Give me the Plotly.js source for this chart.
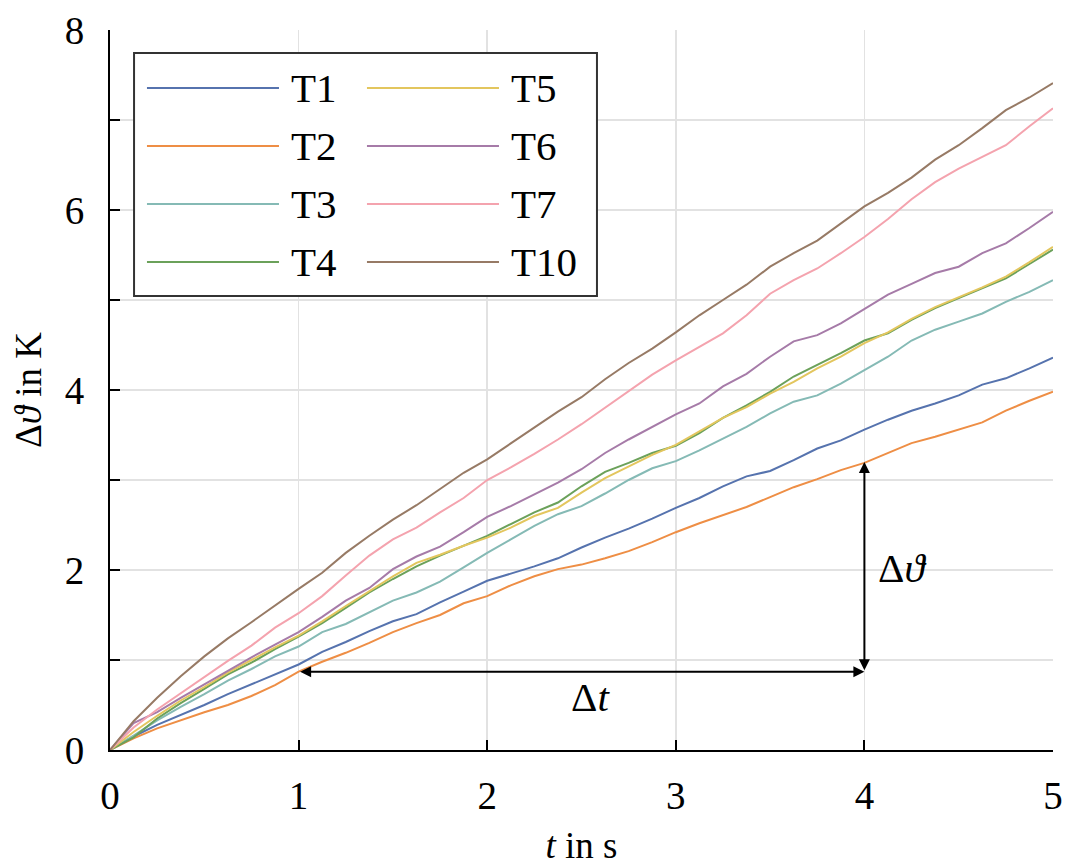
<!DOCTYPE html>
<html>
<head>
<meta charset="utf-8">
<script src="https://cdn.plot.ly/plotly-3.0.1.min.js"></script>
<style>
  html, body { margin: 0; padding: 0; background: #fff; }
  #graph { width: 1076px; height: 868px; }
</style>
</head>
<body>
<div id="graph"></div>
<script>
// time axis in s
var time = [0, 0.125, 0.25, 0.375, 0.5, 0.625, 0.75, 0.875, 1,
  1.125, 1.25, 1.375, 1.5, 1.625, 1.75, 1.875, 2,
  2.125, 2.25, 2.375, 2.5, 2.625, 2.75, 2.875, 3,
  3.125, 3.25, 3.375, 3.5, 3.625, 3.75, 3.875, 4,
  4.125, 4.25, 4.375, 4.5, 4.625, 4.75, 4.875, 5]

// temperature rise in K
var T1 = [0, 0.15, 0.28, 0.39, 0.50, 0.62, 0.73, 0.84, 0.95,
  1.09, 1.20, 1.32, 1.43, 1.51, 1.64, 1.76, 1.88,
  1.96, 2.04, 2.13, 2.25, 2.36, 2.46, 2.57, 2.69,
  2.80, 2.93, 3.04, 3.10, 3.22, 3.35, 3.44, 3.56,
  3.67, 3.77, 3.85, 3.94, 4.06, 4.13, 4.24, 4.36]
var T2 = [0, 0.13, 0.24, 0.33, 0.42, 0.50, 0.60, 0.72, 0.87,
  0.98, 1.08, 1.19, 1.31, 1.41, 1.50, 1.63, 1.71,
  1.83, 1.93, 2.01, 2.06, 2.13, 2.21, 2.31, 2.42,
  2.52, 2.61, 2.70, 2.81, 2.92, 3.01, 3.11, 3.19,
  3.30, 3.41, 3.48, 3.56, 3.64, 3.77, 3.88, 3.98]
var T3 = [0, 0.16, 0.33, 0.48, 0.62, 0.77, 0.90, 1.04, 1.15,
  1.31, 1.40, 1.53, 1.66, 1.75, 1.87, 2.03, 2.19,
  2.34, 2.49, 2.62, 2.71, 2.85, 3.00, 3.13, 3.21,
  3.33, 3.46, 3.59, 3.74, 3.87, 3.94, 4.07, 4.22,
  4.37, 4.55, 4.67, 4.76, 4.85, 4.98, 5.09, 5.22]
var T4 = [0, 0.14, 0.35, 0.52, 0.68, 0.84, 0.97, 1.12, 1.26,
  1.41, 1.58, 1.75, 1.90, 2.04, 2.16, 2.27, 2.38,
  2.51, 2.64, 2.75, 2.93, 3.09, 3.19, 3.30, 3.38,
  3.52, 3.69, 3.83, 3.98, 4.15, 4.28, 4.41, 4.55,
  4.63, 4.78, 4.91, 5.02, 5.13, 5.24, 5.40, 5.56]
var T5 = [0, 0.20, 0.38, 0.55, 0.70, 0.86, 1.00, 1.14, 1.27,
  1.43, 1.60, 1.77, 1.93, 2.08, 2.17, 2.27, 2.36,
  2.47, 2.60, 2.69, 2.86, 3.02, 3.15, 3.28, 3.39,
  3.54, 3.69, 3.81, 3.96, 4.09, 4.24, 4.37, 4.52,
  4.64, 4.79, 4.92, 5.03, 5.14, 5.26, 5.42, 5.59]
var T6 = [0, 0.30, 0.42, 0.58, 0.73, 0.88, 1.03, 1.17, 1.31,
  1.48, 1.66, 1.80, 2.01, 2.15, 2.26, 2.42, 2.59,
  2.71, 2.84, 2.97, 3.12, 3.30, 3.45, 3.59, 3.73,
  3.85, 4.04, 4.18, 4.37, 4.54, 4.61, 4.74, 4.90,
  5.06, 5.18, 5.30, 5.37, 5.52, 5.63, 5.80, 5.98]
var T7 = [0, 0.25, 0.45, 0.63, 0.80, 0.99, 1.16, 1.36, 1.52,
  1.71, 1.94, 2.16, 2.34, 2.47, 2.64, 2.80, 3.00,
  3.14, 3.29, 3.45, 3.62, 3.80, 3.98, 4.17, 4.33,
  4.48, 4.63, 4.83, 5.07, 5.22, 5.35, 5.52, 5.70,
  5.90, 6.12, 6.31, 6.46, 6.59, 6.72, 6.93, 7.13]
var T10 = [0, 0.32, 0.58, 0.82, 1.04, 1.24, 1.42, 1.61, 1.79,
  1.97, 2.19, 2.38, 2.56, 2.72, 2.90, 3.08, 3.23,
  3.41, 3.58, 3.76, 3.92, 4.12, 4.30, 4.46, 4.64,
  4.83, 5.00, 5.17, 5.37, 5.52, 5.66, 5.85, 6.04,
  6.19, 6.36, 6.56, 6.72, 6.91, 7.11, 7.25, 7.41]

var names = ['T1', 'T2', 'T3', 'T4', 'T5', 'T6', 'T7', 'T10']
var series = [T1, T2, T3, T4, T5, T6, T7, T10]
var colors = ['#5673AE', '#EE8E45', '#85BAB5', '#6BA15A', '#E3C65E', '#A67BA8', '#F4A3AE', '#977A65']

var yTicks = [0, 1, 2, 3, 4, 5, 6, 7, 8]
var yTickText = ['0', '', '2', '', '4', '', '6', '', '8']
var xTicks = [0, 1, 2, 3, 4, 5]

// the two marked intervals
var dtStart = 1, dtEnd = 4, dtLevel = 0.87
var dTheta = 3.2

var font = 'Liberation Serif, Times New Roman, serif'

var traces = []
for (var i = 0; i < series.length; i++) {
  traces.push({
    x: time,
    y: series[i],
    name: names[i],
    mode: 'lines',
    showlegend: false,
    line: { color: colors[i], width: 2 }
  })
}

// legend drawn by hand: two columns, long line samples
var shapes = [{
  type: 'rect', xref: 'paper', yref: 'paper',
  x0: 0.0255, x1: 0.5164, y0: 0.6306, y1: 0.968,
  line: { color: '#333', width: 2 }, fillcolor: '#fff', layer: 'above'
}]
var annotations = []
var rowY = [0.9194, 0.8389, 0.7583, 0.6778]
for (i = 0; i < names.length; i++) {
  var col = i < 4 ? 0 : 1
  var row = i % 4
  var x0 = col === 0 ? 0.0392 : 0.2725
  shapes.push({
    type: 'line', xref: 'paper', yref: 'paper',
    x0: x0, x1: x0 + 0.14, y0: rowY[row], y1: rowY[row],
    line: { color: colors[i], width: 2 }, layer: 'above'
  })
  annotations.push({
    xref: 'paper', yref: 'paper', x: x0 + 0.1506, y: rowY[row],
    xanchor: 'left', yanchor: 'middle', showarrow: false,
    text: names[i], font: { family: font, size: 41, color: '#000' }
  })
}

// Δt arrow
annotations.push({
  x: dtEnd, y: dtLevel, ax: dtStart, ay: dtLevel,
  xref: 'x', yref: 'y', axref: 'x', ayref: 'y',
  text: '', showarrow: true, arrowside: 'end+start',
  arrowhead: 2, arrowsize: 1.1, arrowwidth: 2, arrowcolor: '#000'
})
// Δϑ arrow
annotations.push({
  x: dtEnd, y: dTheta, ax: dtEnd, ay: dtLevel,
  xref: 'x', yref: 'y', axref: 'x', ayref: 'y',
  text: '', showarrow: true, arrowside: 'end+start',
  arrowhead: 2, arrowsize: 1.1, arrowwidth: 2, arrowcolor: '#000'
})
annotations.push({
  x: 2.55, y: 0.59, xref: 'x', yref: 'y', showarrow: false,
  text: 'Δ<i>t</i>', font: { family: font, size: 41, color: '#000' }
})
annotations.push({
  x: 4.06, y: 2.02, xref: 'x', yref: 'y', xanchor: 'left', showarrow: false,
  text: 'Δ<i>ϑ</i>', font: { family: font, size: 41, color: '#000' }
})

var layout = {
  width: 1076,
  height: 868,
  margin: { l: 110, r: 23, t: 30, b: 118 },
  paper_bgcolor: '#fff',
  plot_bgcolor: '#fff',
  font: { family: font, color: '#000' },
  showlegend: false,
  xaxis: {
    range: [0, 5],
    tickvals: xTicks,
    ticks: 'inside', ticklen: 10, tickwidth: 2, tickcolor: '#000',
    showline: true, linecolor: '#000', linewidth: 2,
    showgrid: true, gridcolor: '#e2e2e2', gridwidth: 1.5,
    zeroline: false,
    tickfont: { family: font, size: 39 },
    ticklabelstandoff: 10,
    title: { text: '<i>t</i> in s', font: { family: font, size: 37 }, standoff: 16 }
  },
  yaxis: {
    range: [0, 8],
    tickvals: yTicks,
    ticktext: yTickText,
    ticks: 'inside', ticklen: 10, tickwidth: 2, tickcolor: '#000',
    showline: true, linecolor: '#000', linewidth: 2,
    showgrid: true, gridcolor: '#e2e2e2', gridwidth: 1.5,
    zeroline: false,
    tickfont: { family: font, size: 39 },
    ticklabelstandoff: 16,
    title: { text: 'Δ<i>ϑ</i> in K', font: { family: font, size: 37 }, standoff: 12 }
  },
  shapes: shapes,
  annotations: annotations
}

Plotly.newPlot('graph', traces, layout, { displayModeBar: false, staticPlot: true })
</script>
</body>
</html>
